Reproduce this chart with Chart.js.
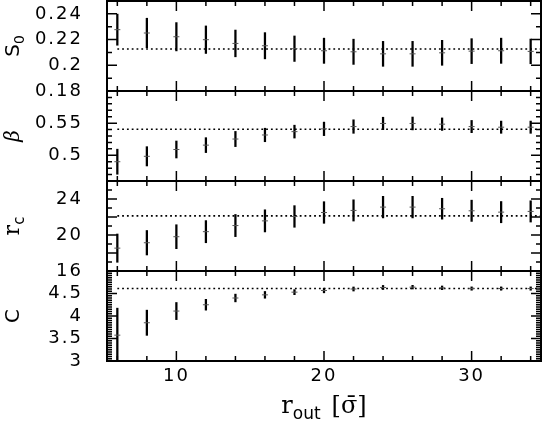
<!DOCTYPE html>
<html>
<head>
<meta charset="utf-8">
<script src="https://cdn.jsdelivr.net/npm/chart.js@4.4.0/dist/chart.umd.min.js"></script>
<style>
  html, body { margin: 0; padding: 0; background: #fff; }
  #wrap { position: relative; width: 546px; height: 421px; overflow: hidden; }
  #wrap canvas { position: absolute; left: 0; }
</style>
</head>
<body>
<div id="wrap">
  <canvas id="pS0" width="546" height="170"></canvas>
  <canvas id="pBeta" width="546" height="170"></canvas>
  <canvas id="pRc" width="546" height="170"></canvas>
  <canvas id="pC" width="546" height="190"></canvas>
</div>
<script>
  // outer radius r_out, same for every panel
  const rOut = [6, 8, 10, 12, 14, 16, 18, 20, 22, 24, 26, 28, 30, 32, 34];

  // S_0
  const s0    = [0.2277, 0.2251, 0.2222, 0.2199, 0.2170, 0.2152, 0.2129, 0.2113, 0.2105, 0.2089, 0.2089, 0.2097, 0.2110, 0.2113, 0.2108];
  const s0Err = [0.0121, 0.0115, 0.0110, 0.0107, 0.0104, 0.0102, 0.0099, 0.0098, 0.0098, 0.0097, 0.0097, 0.0097, 0.0097, 0.0098, 0.0096];
  const s0Fit = 0.2127;

  // beta
  const beta    = [0.4900, 0.4984, 0.5090, 0.5158, 0.5253, 0.5316, 0.5368, 0.5411, 0.5447, 0.5495, 0.5495, 0.5484, 0.5447, 0.5437, 0.5437];
  const betaErr = [0.0195, 0.0150, 0.0132, 0.0116, 0.0118, 0.0105, 0.0100, 0.0105, 0.0105, 0.0097, 0.0100, 0.0097, 0.0095, 0.0095, 0.0095];
  const betaFit = 0.5405;

  // r_c
  const rc    = [18.54, 19.14, 19.81, 20.37, 21.05, 21.57, 22.06, 22.50, 22.73, 23.10, 23.10, 22.92, 22.69, 22.54, 22.62];
  const rcErr = [1.57, 1.36, 1.33, 1.23, 1.23, 1.23, 1.20, 1.20, 1.18, 1.20, 1.20, 1.16, 1.18, 1.18, 1.18];
  const rcFit = 22.13;

  // C
  const cVal = [3.574, 3.85, 4.11, 4.25, 4.40, 4.47, 4.53, 4.567, 4.60, 4.634, 4.641, 4.626, 4.61, 4.61, 4.61];
  const cErr = [0.60, 0.28, 0.19, 0.12, 0.086, 0.075, 0.056, 0.052, 0.045, 0.045, 0.041, 0.041, 0.037, 0.037, 0.037];
  const cFit = 4.61;

  // tick labels
  const xTicks    = [10, 20, 30];
  const s0Ticks   = [0.18, 0.2, 0.22, 0.24];
  const betaTicks = [0.5, 0.55];
  const rcTicks   = [16, 20, 24];
  const cTicks    = [3, 3.5, 4, 4.5];

  const X_MIN = 5.3, X_MAX = 34.7;
  const PAD = 40;
  const PANEL_TOP = [1, 91, 181, 271];

  Chart.defaults.font.family = 'DejaVu Sans';
  Chart.defaults.font.size = 18;
  Chart.defaults.color = '#000';

  function stepValues(min, max, step) {
    const out = [];
    for (let i = Math.ceil(min / step - 1e-9); i * step <= max + 1e-9; i++) {
      out.push(Math.round(i * step * 1e6) / 1e6);
    }
    return out;
  }
  function isMultiple(v, step) {
    return Math.abs(v / step - Math.round(v / step)) < 1e-6;
  }
  function drawPieces(ctx, pieces, cx, baseY) {
    let total = 0;
    pieces.forEach(p => {
      ctx.font = p.font;
      p.w = ctx.measureText(p.t).width;
      total += p.w + (p.gap || 0);
    });
    let x = cx - total / 2;
    pieces.forEach(p => {
      ctx.font = p.font;
      ctx.fillText(p.t, x, baseY + (p.dy || 0));
      x += p.w + (p.gap || 0);
    });
  }

  // frame, inward ticks on all sides, axis titles
  const panelDecor = {
    id: 'panelDecor',
    beforeDraw(chart) {
      chart.ctx.letterSpacing = '2px';
    },
    afterDraw(chart, args, o) {
      const ctx = chart.ctx;
      const a = chart.chartArea;
      const xs = chart.scales.x, ys = chart.scales.y;
      ctx.save();
      ctx.letterSpacing = '0px';
      ctx.strokeStyle = '#000';
      ctx.fillStyle = '#000';
      ctx.lineWidth = 1.5;
      ctx.beginPath();
      stepValues(xs.min, xs.max, 2).forEach(v => {
        const px = xs.getPixelForValue(v);
        const len = isMultiple(v, 10) ? 10 : 5;
        ctx.moveTo(px, a.top); ctx.lineTo(px, a.top + len);
        ctx.moveTo(px, a.bottom); ctx.lineTo(px, a.bottom - len);
      });
      stepValues(ys.min, ys.max, o.minorStep).forEach(v => {
        const py = ys.getPixelForValue(v);
        const len = isMultiple(v, o.majorStep) ? 10 : 5;
        ctx.moveTo(a.left, py); ctx.lineTo(a.left + len, py);
        ctx.moveTo(a.right, py); ctx.lineTo(a.right - len, py);
      });
      ctx.stroke();
      ctx.lineWidth = 2;
      ctx.strokeRect(a.left, a.top, a.right - a.left, a.bottom - a.top);

      ctx.textBaseline = 'alphabetic';
      ctx.save();
      ctx.translate(19, (a.top + a.bottom) / 2);
      ctx.rotate(-Math.PI / 2);
      drawPieces(ctx, o.yTitle, 0, 0);
      ctx.restore();

      if (o.xTitle) {
        drawPieces(ctx, o.xTitle, (a.left + a.right) / 2, a.bottom + 52);
      }
      ctx.restore();
    }
  };

  function makePanel(id, idx, vals, errs, fit, yMin, yMax, yTicks, majorStep, minorStep, yTitle, xTitle) {
    const isBottom = !!xTitle;
    const canvas = document.getElementById(id);
    canvas.style.top = (PANEL_TOP[idx] - PAD) + 'px';

    const xScale = {
      type: 'linear', min: X_MIN, max: X_MAX, offset: false,
      display: isBottom,
      grid: { display: false }, border: { display: false },
      ticks: { padding: -3, maxRotation: 0, callback: v => String(v) },
      afterBuildTicks: s => { s.ticks = xTicks.map(v => ({ value: v })); }
    };
    if (isBottom) xScale.afterFit = s => { s.height = 60; };

    return new Chart(canvas, {
      type: 'bar',
      data: {
        datasets: [{
          type: 'line',
          data: rOut.map((x, i) => ({ x: x, y: vals[i] })),
          showLine: false,
          pointStyle: 'line',
          pointRadius: 3,
          pointBorderWidth: 1,
          pointBorderColor: '#555',
          order: 0
        }, {
          type: 'bar',
          data: rOut.map((x, i) => ({ x: x, y: [vals[i] - errs[i], vals[i] + errs[i]] })),
          backgroundColor: '#000',
          borderWidth: 0,
          barThickness: 1.6,
          order: 1
        }, {
          type: 'line',
          data: [{ x: rOut[0], y: fit }, { x: X_MAX, y: fit }],
          borderColor: '#000',
          borderWidth: 1.6,
          borderDash: [1.8, 3],
          pointRadius: 0,
          order: 2
        }]
      },
      options: {
        responsive: false,
        animation: false,
        devicePixelRatio: 1,
        layout: { padding: { top: PAD, bottom: isBottom ? 0 : PAD, left: 0, right: 1 } },
        plugins: {
          legend: { display: false },
          tooltip: { enabled: false },
          panelDecor: { majorStep: majorStep, minorStep: minorStep, yTitle: yTitle, xTitle: xTitle }
        },
        scales: {
          x: xScale,
          y: {
            type: 'linear', min: yMin, max: yMax,
            grid: { display: false }, border: { display: false },
            ticks: { padding: 16, callback: v => String(v) },
            afterBuildTicks: s => { s.ticks = yTicks.map(v => ({ value: v })); },
            afterFit: s => { s.width = 107; }
          }
        }
      },
      plugins: [panelDecor]
    });
  }

  makePanel('pS0', 0, s0, s0Err, s0Fit, 0.18, 0.25, s0Ticks, 0.02, 0.01,
    [{ t: 'S', font: '20px DejaVu Sans' }, { t: '0', font: '14px DejaVu Sans', dy: 5 }]);
  makePanel('pBeta', 1, beta, betaErr, betaFit, 0.46, 0.60, betaTicks, 0.05, 0.01,
    [{ t: 'β', font: 'italic 20px DejaVu Serif' }]);
  makePanel('pRc', 2, rc, rcErr, rcFit, 16, 26, rcTicks, 2, 1,
    [{ t: 'r', font: '22px DejaVu Serif' }, { t: 'c', font: '15px DejaVu Sans', dy: 5 }]);
  makePanel('pC', 3, cVal, cErr, cFit, 3, 5, cTicks, 0.5, 0.05,
    [{ t: 'C', font: '20px DejaVu Sans' }],
    [{ t: 'r', font: '24px DejaVu Serif' }, { t: 'out', font: '17px DejaVu Sans', dy: 6, gap: 11 }, { t: '[σ̄]', font: '24px DejaVu Serif' }]);
</script>
</body>
</html>
